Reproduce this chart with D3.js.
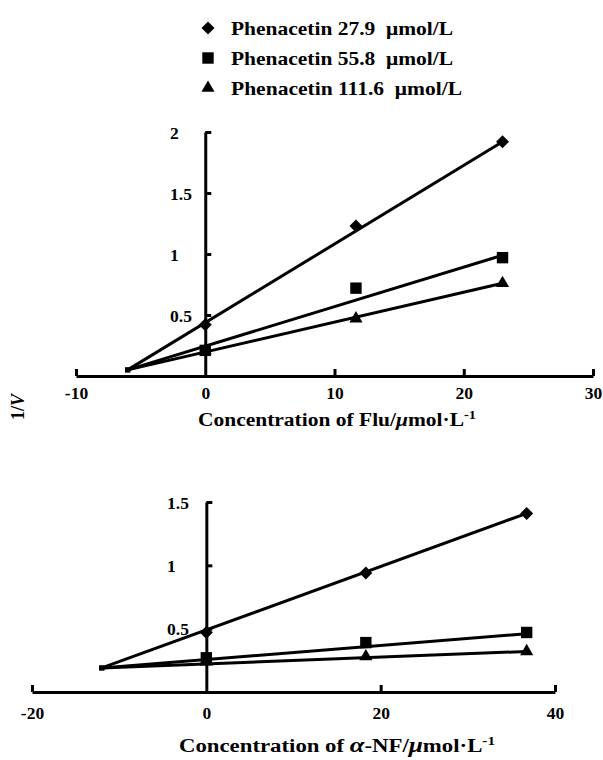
<!DOCTYPE html>
<html><head><meta charset="utf-8">
<script src="https://cdn.jsdelivr.net/npm/d3@7"></script>
<style>body{margin:0;background:#fff}svg{display:block}text{font-family:"Liberation Serif","Times New Roman",serif;font-weight:bold;fill:#000}</style>
</head><body><svg id="c" width="603" height="760"></svg>
<script>
const seriesNames = ["Phenacetin 27.9\u00a0 μmol/L","Phenacetin 55.8\u00a0 μmol/L","Phenacetin 111.6\u00a0 μmol/L"];
const symbolTypes = ["diamond", "square", "triangle"];

// Top chart: Flu
const fluX = [0, 11.66, 23];
const fluY = [[0.42, 1.23, 1.92],[0.21, 0.72, 0.97],[0.21, 0.47, 0.76]];
const fluFitX = [-6, 23];
const fluFitY = [[0.05, 1.92],[0.05, 0.99],[0.05, 0.76]];
const fluXTicks = [-10, 0, 10, 20, 30];
const fluYTicks = [0.5, 1, 1.5, 2];

// Bottom chart: alpha-NF
const nfX = [0, 18.3, 36.75];
const nfY = [[0.47, 0.94, 1.41],[0.27, 0.39, 0.47],[0.24, 0.28, 0.32]];
const nfFitX = [-12, 36.75];
const nfFitY = [[0.19, 1.41],[0.19, 0.46],[0.19, 0.32]];
const nfXTicks = [-20, 0, 20, 40];
const nfYTicks = [0.5, 1, 1.5];

const svg = d3.select("#c");

function marker(sel, type, cx, cy){
  let p;
  if(type==="diamond") p = sel.append("path").attr("d", d3.symbol(d3.symbolSquare, 84)())
      .attr("transform",`translate(${cx},${cy}) rotate(45)`);
  else if(type==="square") p = sel.append("path").attr("d", d3.symbol(d3.symbolSquare, 130)())
      .attr("transform",`translate(${cx},${cy})`);
  else p = sel.append("path").attr("d", d3.symbol(d3.symbolTriangle, 75)())
      .attr("transform",`translate(${cx},${cy})`);
  p.attr("fill","#000");
}

function panel(cfg){
  const x = d3.scaleLinear().domain(cfg.xd).range(cfg.xr);
  const y = d3.scaleLinear().domain(cfg.yd).range(cfg.yr);
  const g = svg.append("g");
  const xa = g.append("g").attr("transform",`translate(0,${y(0)})`)
    .call(d3.axisBottom(x).tickValues(cfg.xTicks).tickSize(-7).tickSizeOuter(0).tickFormat(d=>String(d)));
  xa.attr("font-family",null).attr("font-size",null);
  xa.select(".domain").attr("stroke","#000").attr("stroke-width",3);
  xa.selectAll(".tick line").attr("stroke","#000").attr("stroke-width",3);
  xa.selectAll(".tick text").attr("font-size",17.5).attr("dy",0).attr("y",cfg.xLabY);
  xa.selectAll(".tick").filter(d=>d===0).select("line").remove();
  const ya = g.append("g").attr("transform",`translate(${x(0)},0)`)
    .call(d3.axisLeft(y).tickValues(cfg.yTicks).tickSize(-6).tickSizeOuter(0).tickFormat(d=>String(d)));
  ya.attr("font-family",null).attr("font-size",null).attr("text-anchor",null);
  ya.select(".domain").attr("stroke","#000").attr("stroke-width",3);
  ya.selectAll(".tick line").attr("stroke","#000").attr("stroke-width",3);
  ya.selectAll(".tick text").attr("font-size",17.5).attr("text-anchor","start")
    .attr("x",cfg.yLabX - x(0)).attr("dy","0.35em");
  cfg.fitY.forEach(fy=>{
    g.append("line").attr("x1",x(cfg.fitX[0])).attr("y1",y(fy[0]))
      .attr("x2",x(cfg.fitX[1])).attr("y2",y(fy[1]))
      .attr("stroke","#000").attr("stroke-width",3);
  });
  g.append("path").attr("d",d3.symbol(d3.symbolSquare,30)())
    .attr("transform",`translate(${x(cfg.fitX[0])},${y(cfg.fitY[0][0])})`);
  cfg.ys.forEach((ser,i)=>{
    ser.forEach((v,j)=> marker(g, symbolTypes[i], x(cfg.xs[j]), y(v)));
  });
  return {x,y};
}

panel({xd:[-10,30], xr:[76,593], yd:[0,2], yr:[376,132], xTicks:fluXTicks, yTicks:fluYTicks,
  xs:fluX, ys:fluY, fitX:fluFitX, fitY:fluFitY, xLabY:23, yLabX:170});
panel({xd:[-20,40], xr:[32,555], yd:[0,1.5], yr:[692,502], xTicks:nfXTicks, yTicks:nfYTicks,
  xs:nfX, ys:nfY, fitX:nfFitX, fitY:nfFitY, xLabY:27, yLabX:167});

// legend
const legendW = [222, 222, 231];
const leg = svg.append("g");
seriesNames.forEach((n,i)=>{
  const yy = 28 + i*30;
  marker(leg, symbolTypes[i], 208, yy);
  leg.append("text").attr("x",231).attr("y",yy+7).attr("font-size",19)
    .attr("textLength",legendW[i]).attr("lengthAdjust","spacingAndGlyphs").text(n);
});

// axis titles
const t1 = svg.append("text").attr("x",337).attr("y",426).attr("text-anchor","middle").attr("font-size",18)
  .attr("textLength",278).attr("lengthAdjust","spacingAndGlyphs");
t1.append("tspan").text("Concentration of Flu/");
t1.append("tspan").attr("font-style","italic").text("μ");
t1.append("tspan").text("mol·L");
t1.append("tspan").attr("dy",-7).attr("font-size",12).text("-1");

const t2 = svg.append("text").attr("x",337).attr("y",752).attr("text-anchor","middle").attr("font-size",18)
  .attr("textLength",316).attr("lengthAdjust","spacingAndGlyphs");
t2.append("tspan").text("Concentration of ");
t2.append("tspan").attr("font-style","italic").attr("font-size",21).text("α");
t2.append("tspan").text("-NF/");
t2.append("tspan").attr("font-style","italic").attr("font-size",20).text("μ");
t2.append("tspan").text("mol·L");
t2.append("tspan").attr("dy",-7).attr("font-size",12).text("-1");

const yl = svg.append("text").attr("transform","translate(24,407) rotate(-90)").attr("text-anchor","middle").attr("font-size",18);
yl.append("tspan").text("1/");
yl.append("tspan").attr("font-style","italic").text("V");
</script></body></html>
